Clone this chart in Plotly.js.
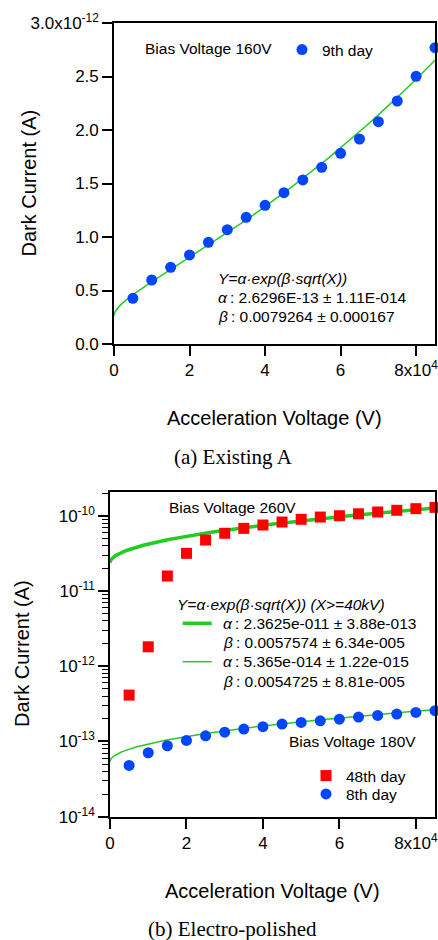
<!DOCTYPE html>
<html>
<head>
<meta charset="utf-8">
<script src="https://cdn.plot.ly/plotly-3.0.1.min.js"></script>
<style>
  html, body { margin: 0; padding: 0; background: #fff; }
  #chart { width: 438px; height: 940px; }
</style>
</head>
<body>
<div id="chart"></div>
<script>
// ---------- data ----------
const accelVoltage = [5000, 10000, 15000, 20000, 25000, 30000, 35000, 40000, 45000,
                      50000, 55000, 60000, 65000, 70000, 75000, 80000, 85000];

// (a) Existing A, bias 160 V, 9th day  [A]
const day9Current = [0.427e-12, 0.598e-12, 0.717e-12, 0.832e-12, 0.950e-12, 1.068e-12,
                     1.184e-12, 1.296e-12, 1.414e-12, 1.533e-12, 1.651e-12, 1.782e-12,
                     1.916e-12, 2.078e-12, 2.271e-12, 2.502e-12, 2.769e-12];

// (b) Electro-polished, bias 260 V, 48th day  [A]
const day48Current = [4.13e-13, 1.81e-12, 1.58e-11, 3.16e-11, 4.75e-11, 5.84e-11,
                      6.79e-11, 7.52e-11, 8.24e-11, 8.95e-11, 9.60e-11, 1.00e-10,
                      1.06e-10, 1.12e-10, 1.18e-10, 1.24e-10, 1.29e-10];

// (b) Electro-polished, bias 180 V, 8th day  [A]
const day8Current = [4.80e-14, 7.08e-14, 8.77e-14, 1.03e-13, 1.19e-13, 1.33e-13,
                     1.46e-13, 1.57e-13, 1.70e-13, 1.79e-13, 1.88e-13, 1.98e-13,
                     2.11e-13, 2.22e-13, 2.31e-13, 2.43e-13, 2.56e-13];

// fit parameters printed on the chart: Y = alpha * exp(beta * sqrt(X))
const fitAlpha = [2.6296e-13, 2.3625e-11, 5.365e-14];
const fitBeta  = [0.0079264, 0.0057574, 0.0054725];

// tick labels
const xTickVals = [0, 20000, 40000, 60000, 80000];
const xTickText = ["0", "2", "4", "6", "8x10<sup>4</sup>"];
const yTopTickVals = [0, 0.5e-12, 1.0e-12, 1.5e-12, 2.0e-12, 2.5e-12, 3.0e-12];
const yTopTickText = ["0.0", "0.5", "1.0", "1.5", "2.0", "2.5", "3.0x10<sup>-12</sup>"];
const yBotTickVals = [1e-14, 1e-13, 1e-12, 1e-11, 1e-10];
const yBotTickText = ["10<sup>-14</sup>", "10<sup>-13</sup>", "10<sup>-12</sup>",
                      "10<sup>-11</sup>", "10<sup>-10</sup>"];

// ---------- helpers ----------
const W = 438, H = 940;
const px = v => v / W;          // pixel -> paper x
const py = v => 1 - v / H;      // pixel -> paper y

// sampling grid for the fitted curves (dense near 0 because of sqrt)
const X_MAX = 85000;
const fitX = [];
for (let i = 0; i <= 80; i++) fitX.push(X_MAX * (i / 80) * (i / 80));
const fitCurve = k => fitX.map(x => fitAlpha[k] * Math.exp(fitBeta[k] * Math.sqrt(x)));

const BLUE = "#0046ff", RED = "#ff0000", GREEN = "#22cc22";
const FONT = "Liberation Sans, Arial, sans-serif";
const SERIF = "Liberation Serif, Times New Roman, serif";

const traces = [
  { x: fitX, y: fitCurve(0), xaxis: "x", yaxis: "y", mode: "lines",
    line: { color: GREEN, width: 1.5 }, showlegend: false, hoverinfo: "skip" },
  { x: accelVoltage, y: day9Current, xaxis: "x", yaxis: "y", mode: "markers",
    name: "9th day", legend: "legend", cliponaxis: false,
    marker: { symbol: "circle", size: 11, color: BLUE } },

  { x: fitX, y: fitCurve(1), xaxis: "x2", yaxis: "y2", mode: "lines",
    line: { color: GREEN, width: 3.5 }, showlegend: false, hoverinfo: "skip" },
  { x: fitX, y: fitCurve(2), xaxis: "x2", yaxis: "y2", mode: "lines",
    line: { color: GREEN, width: 1.5 }, showlegend: false, hoverinfo: "skip" },
  { x: accelVoltage, y: day48Current, xaxis: "x2", yaxis: "y2", mode: "markers",
    name: "48th day", legend: "legend2", cliponaxis: false,
    marker: { symbol: "square", size: 11, color: RED } },
  { x: accelVoltage, y: day8Current, xaxis: "x2", yaxis: "y2", mode: "markers",
    name: "8th day", legend: "legend3", cliponaxis: false,
    marker: { symbol: "circle", size: 11, color: BLUE } }
];

const axisCommon = {
  showline: true, linecolor: "#000", linewidth: 1.6, mirror: true,
  ticks: "outside", ticklen: 10, tickwidth: 1.6, tickcolor: "#000",
  showgrid: false, zeroline: false, ticklabeloverflow: "allow",
  tickfont: { family: FONT, size: 17, color: "#000" }
};

const minorLog = [];
for (let e = -14; e < -9; e++) for (let d = 2; d <= 9; d++) minorLog.push(d * Math.pow(10, e));

const legendCommon = {
  xanchor: "left", yanchor: "top", bgcolor: "rgba(0,0,0,0)", borderwidth: 0,
  font: { family: FONT, size: 15.5, color: "#000" }
};

const layout = {
  width: W, height: H,
  margin: { l: 0, r: 0, t: 0, b: 0 },
  paper_bgcolor: "#fff", plot_bgcolor: "#fff",
  font: { family: FONT, color: "#000" },
  xaxis: Object.assign({}, axisCommon, {
    domain: [px(114), px(435)], anchor: "y", range: [0, X_MAX],
    tickmode: "array", tickvals: xTickVals, ticktext: xTickText
  }),
  yaxis: Object.assign({}, axisCommon, {
    domain: [py(344), py(23)], anchor: "x", range: [0, 3.0e-12],
    tickmode: "array", tickvals: yTopTickVals, ticktext: yTopTickText
  }),
  xaxis2: Object.assign({}, axisCommon, {
    domain: [px(110), px(435)], anchor: "y2", range: [0, X_MAX],
    tickmode: "array", tickvals: xTickVals, ticktext: xTickText
  }),
  yaxis2: Object.assign({}, axisCommon, {
    type: "log", domain: [py(816.7), py(492)], anchor: "x2", range: [-14, -9.685],
    tickmode: "array", tickvals: yBotTickVals, ticktext: yBotTickText,
    minor: { tickmode: "array", tickvals: minorLog, ticks: "outside", ticklen: 6,
             tickwidth: 1.2, tickcolor: "#000", showgrid: false }
  }),
  legend:  Object.assign({}, legendCommon, { x: px(282), y: py(33) }),
  legend2: Object.assign({}, legendCommon, { x: px(306), y: py(759) }),
  legend3: Object.assign({}, legendCommon, { x: px(306), y: py(777.3) }),
  shapes: [
    { type: "line", xref: "paper", yref: "paper", x0: px(182.7), x1: px(211.7),
      y0: py(623.3), y1: py(623.3), line: { color: GREEN, width: 3.5 } },
    { type: "line", xref: "paper", yref: "paper", x0: px(182.7), x1: px(211.7),
      y0: py(661.7), y1: py(661.7), line: { color: GREEN, width: 1.5 } }
  ],
  annotations: []
};

function note(text, x, y, size, opts) {
  layout.annotations.push(Object.assign({
    text: text, xref: "paper", yref: "paper", x: px(x), y: py(y),
    xanchor: "left", yanchor: "middle", showarrow: false,
    font: { family: FONT, size: size || 15.5, color: "#000" }
  }, opts || {}));
}

// panel (a)
note("Bias Voltage 160V", 143, 49);
note("<i>Y=α·exp(β·sqrt(X))</i>", 215.5, 278.3);
note("<i>α</i>\u2009: 2.6296E-13 ± 1.11E-014", 215.5, 297.3);
note("<i>β</i>\u2009: 0.0079264 ± 0.000167", 215.5, 316.7);
note("Dark Current (A)", 29, 183.5, 20, { xanchor: "center", textangle: -90 });
note("Acceleration Voltage (V)", 274.5, 418, 20, { xanchor: "center" });
note("(a) Existing A", 233, 457, 21, { xanchor: "center", font: { family: SERIF, size: 21, color: "#000" } });

// panel (b)
note("Bias Voltage 260V", 167, 507.3);
note("<i>Y=α·exp(β·sqrt(X)) (X>=40kV)</i>", 174.5, 604);
note("<i>α</i>\u2009: 2.3625e-011 ± 3.88e-013", 221, 623.3);
note("<i>β</i>\u2009: 0.0057574 ± 6.34e-005", 221, 642.7);
note("<i>α</i>\u2009: 5.365e-014 ± 1.22e-015", 221, 661.7);
note("<i>β</i>\u2009: 0.0054725 ± 8.81e-005", 221, 681);
note("Bias Voltage 180V", 287, 741.7);
note("Dark Current (A)", 22, 654, 20, { xanchor: "center", textangle: -90 });
note("Acceleration Voltage (V)", 272.5, 890.7, 20, { xanchor: "center" });
note("(b) Electro-polished", 232.5, 929, 21, { xanchor: "center", font: { family: SERIF, size: 21, color: "#000" } });

Plotly.newPlot("chart", traces, layout, { displayModeBar: false });
</script>
</body>
</html>
